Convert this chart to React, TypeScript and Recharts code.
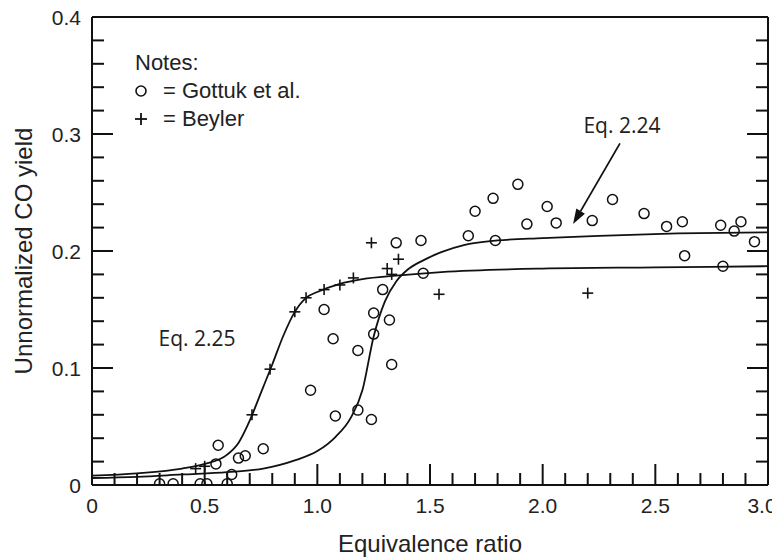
import React from "react";
import {
  ComposedChart,
  Legend,
  Line,
  ReferenceDot,
  ReferenceLine,
  Scatter,
  XAxis,
  YAxis,
} from "recharts";

// tick positions and labels
const xTicks = [
  0, 0.1, 0.2, 0.3, 0.4, 0.5, 0.6, 0.7, 0.8, 0.9, 1.0, 1.1, 1.2, 1.3, 1.4, 1.5,
  1.6, 1.7, 1.8, 1.9, 2.0, 2.1, 2.2, 2.3, 2.4, 2.5, 2.6, 2.7, 2.8, 2.9, 3.0,
];
const xMajor = [0, 0.5, 1.0, 1.5, 2.0, 2.5, 3.0];
const xLabels = ["0", "0.5", "1.0", "1.5", "2.0", "2.5", "3.0"];
const yTicks = [
  0, 0.02, 0.04, 0.06, 0.08, 0.1, 0.12, 0.14, 0.16, 0.18, 0.2, 0.22, 0.24, 0.26,
  0.28, 0.3, 0.32, 0.34, 0.36, 0.38, 0.4,
];
const yMajor = [0, 0.1, 0.2, 0.3, 0.4];
const yLabels = ["0", "0.1", "0.2", "0.3", "0.4"];

// Gottuk et al. (open circles)
const gottuk: [number, number][] = [
  [0.3, 0.001], [0.36, 0.001], [0.48, 0.001], [0.51, 0.001], [0.55, 0.018],
  [0.56, 0.034], [0.6, 0.001], [0.62, 0.009], [0.65, 0.023], [0.68, 0.025],
  [0.76, 0.031], [0.97, 0.081], [1.03, 0.15], [1.07, 0.125], [1.08, 0.059],
  [1.18, 0.064], [1.18, 0.115], [1.24, 0.056], [1.25, 0.147], [1.25, 0.129],
  [1.29, 0.167], [1.32, 0.141], [1.33, 0.103], [1.35, 0.207], [1.46, 0.209],
  [1.47, 0.181], [1.67, 0.213], [1.7, 0.234], [1.78, 0.245], [1.79, 0.209],
  [1.89, 0.257], [1.93, 0.223], [2.02, 0.238], [2.06, 0.224], [2.22, 0.226],
  [2.31, 0.244], [2.45, 0.232], [2.55, 0.221], [2.62, 0.225], [2.63, 0.196],
  [2.79, 0.222], [2.8, 0.187], [2.85, 0.217], [2.88, 0.225], [2.94, 0.208],
];

// Beyler (plus signs)
const beyler: [number, number][] = [
  [0.46, 0.014], [0.5, 0.016], [0.71, 0.06], [0.79, 0.099], [0.9, 0.148],
  [0.95, 0.16], [1.03, 0.167], [1.1, 0.171], [1.16, 0.177], [1.24, 0.207],
  [1.31, 0.185], [1.33, 0.18], [1.36, 0.193], [1.54, 0.163], [2.2, 0.164],
];

// fitted curves
const eq224: [number, number][] = [
  [0, 0.006], [0.2, 0.007], [0.4, 0.009], [0.6, 0.011], [0.76, 0.014],
  [0.9, 0.021], [1.0, 0.029], [1.08, 0.041], [1.15, 0.058], [1.2, 0.081],
  [1.25, 0.127], [1.3, 0.157], [1.35, 0.174], [1.4, 0.184], [1.47, 0.192],
  [1.55, 0.199], [1.65, 0.205], [1.8, 0.209], [2.0, 0.211], [2.25, 0.213],
  [2.6, 0.215], [3.0, 0.216],
];
const eq225: [number, number][] = [
  [0, 0.008], [0.2, 0.01], [0.4, 0.014], [0.5, 0.018], [0.6, 0.026],
  [0.65, 0.036], [0.7, 0.055], [0.75, 0.079], [0.8, 0.103], [0.85, 0.128],
  [0.9, 0.148], [0.95, 0.16], [1.0, 0.165], [1.1, 0.172], [1.2, 0.176],
  [1.35, 0.179], [1.55, 0.182], [2.0, 0.185], [2.5, 0.186], [3.0, 0.187],
];

const toRows = (pts: [number, number][]) => pts.map(([x, y]) => ({ x, y }));

const INK = "#111";
const TEXT = "#222";
const FONT = "'Liberation Sans', Arial, Helvetica, sans-serif";
const EQ_FONT = "'Open Sans', 'DejaVu Sans', sans-serif";

const findIdx = (arr: number[], v: number) =>
  arr.findIndex((m) => Math.abs(m - v) < 1e-6);

const makeXTick = (side: "bottom" | "top") => (props: any) => {
  const { x, y, payload } = props;
  const idx = findIdx(xMajor, payload.value);
  const len = idx >= 0 ? 21 : 12;
  const dir = side === "bottom" ? -1 : 1;
  // last label nudged left so it stays on the page
  const dx = idx === xMajor.length - 1 ? -6 : 0;
  return (
    <g>
      <line x1={x} x2={x} y1={y} y2={y + dir * len} stroke={INK} strokeWidth={2} />
      {side === "bottom" && idx >= 0 && (
        <text x={x + dx} y={y + 28} textAnchor="middle" fontSize={21} fontFamily={FONT} fill={TEXT}>
          {xLabels[idx]}
        </text>
      )}
    </g>
  );
};

const makeYTick = (side: "left" | "right") => (props: any) => {
  const { x, y, payload } = props;
  const idx = findIdx(yMajor, payload.value);
  const len = idx >= 0 ? 21 : 12;
  const dir = side === "left" ? 1 : -1;
  return (
    <g>
      <line x1={x} x2={x + dir * len} y1={y} y2={y} stroke={INK} strokeWidth={2} />
      {side === "left" && idx >= 0 && (
        <text x={x - 11} y={y + 7.5} textAnchor="end" fontSize={21} fontFamily={FONT} fill={TEXT}>
          {yLabels[idx]}
        </text>
      )}
    </g>
  );
};

const OpenCircle = (props: any) => (
  <circle cx={props.cx} cy={props.cy} r={5} fill="none" stroke={INK} strokeWidth={1.5} />
);

const PlusMark = (props: any) => {
  const { cx, cy } = props;
  return (
    <g stroke={INK} strokeWidth={1.6}>
      <line x1={cx - 5.5} x2={cx + 5.5} y1={cy} y2={cy} />
      <line x1={cx} x2={cx} y1={cy - 5.5} y2={cy + 5.5} />
    </g>
  );
};

const Arrow = (props: any) => {
  const { x1, y1, x2, y2 } = props;
  const ang = Math.atan2(y2 - y1, x2 - x1);
  const L = 15;
  const W = 5;
  const bx = x2 - L * Math.cos(ang);
  const by = y2 - L * Math.sin(ang);
  const px = -Math.sin(ang) * W;
  const py = Math.cos(ang) * W;
  return (
    <g>
      <line x1={x1} y1={y1} x2={bx} y2={by} stroke={INK} strokeWidth={1.8} />
      <polygon
        points={`${x2},${y2} ${bx + px},${by + py} ${bx - px},${by - py}`}
        fill={INK}
      />
    </g>
  );
};

const NotesLegend = () => (
  <div style={{ fontFamily: FONT, fontSize: 22, color: TEXT, lineHeight: "28px" }}>
    <div>Notes:</div>
    <div style={{ display: "flex", alignItems: "center" }}>
      <svg width={16} height={16}>
        <circle cx={6} cy={8} r={5} fill="none" stroke={INK} strokeWidth={1.6} />
      </svg>
      <span style={{ marginLeft: 12 }}>= Gottuk et al.</span>
    </div>
    <div style={{ display: "flex", alignItems: "center" }}>
      <svg width={16} height={16}>
        <line x1={0} x2={12} y1={8} y2={8} stroke={INK} strokeWidth={1.8} />
        <line x1={6} x2={6} y1={2} y2={14} stroke={INK} strokeWidth={1.8} />
      </svg>
      <span style={{ marginLeft: 12 }}>= Beyler</span>
    </div>
  </div>
);

export default function App() {
  return (
    <div style={{ width: 780, height: 558, margin: "-8px 0 0 -8px", background: "#fff" }}>
      <ComposedChart
        width={780}
        height={558}
        margin={{ top: 16, right: 11, left: 0, bottom: 0 }}
      >
        <XAxis
          xAxisId="bottom"
          type="number"
          dataKey="x"
          domain={[0, 3]}
          allowDataOverflow
          ticks={xTicks}
          interval={0}
          height={73}
          tickSize={0}
          tickMargin={0}
          tickLine={false}
          axisLine={{ stroke: INK, strokeWidth: 2 }}
          tick={makeXTick("bottom")}
          label={{
            value: "Equivalence ratio",
            position: "insideBottom",
            offset: 6,
            fontSize: 24,
            fontFamily: FONT,
            fill: TEXT,
          }}
        />
        <XAxis
          xAxisId="top"
          orientation="top"
          type="number"
          domain={[0, 3]}
          allowDataOverflow
          ticks={xTicks}
          interval={0}
          height={1}
          tickSize={0}
          tickMargin={0}
          tickLine={false}
          axisLine={{ stroke: INK, strokeWidth: 2 }}
          tick={makeXTick("top")}
        />
        <YAxis
          yAxisId="left"
          type="number"
          dataKey="y"
          domain={[0, 0.4]}
          allowDataOverflow
          ticks={yTicks}
          interval={0}
          width={92}
          tickSize={0}
          tickMargin={0}
          tickLine={false}
          axisLine={{ stroke: INK, strokeWidth: 2 }}
          tick={makeYTick("left")}
          label={(p: any) => {
            const vb = p.viewBox;
            const cx = vb.x + 23;
            const cy = vb.y + vb.height / 2;
            return (
              <text
                x={cx}
                y={cy}
                transform={`rotate(-90 ${cx} ${cy})`}
                textAnchor="middle"
                dominantBaseline="central"
                fontSize={24}
                fontFamily={FONT}
                fill={TEXT}
              >
                Unnormalized CO yield
              </text>
            );
          }}
        />
        <YAxis
          yAxisId="right"
          orientation="right"
          type="number"
          domain={[0, 0.4]}
          allowDataOverflow
          ticks={yTicks}
          interval={0}
          width={1}
          tickSize={0}
          tickMargin={0}
          tickLine={false}
          axisLine={{ stroke: INK, strokeWidth: 2 }}
          tick={makeYTick("right")}
        />
        <Legend
          layout="horizontal"
          verticalAlign="middle"
          align="center"
          wrapperStyle={{ top: 49, left: 135, width: "auto" }}
          content={<NotesLegend />}
        />
        <Line
          xAxisId="bottom"
          yAxisId="left"
          data={toRows(eq224)}
          dataKey="y"
          type="monotone"
          stroke={INK}
          strokeWidth={1.8}
          dot={false}
          activeDot={false}
          isAnimationActive={false}
        />
        <Line
          xAxisId="bottom"
          yAxisId="left"
          data={toRows(eq225)}
          dataKey="y"
          type="monotone"
          stroke={INK}
          strokeWidth={1.8}
          dot={false}
          activeDot={false}
          isAnimationActive={false}
        />
        <Scatter
          xAxisId="bottom"
          yAxisId="left"
          data={toRows(gottuk)}
          shape={<OpenCircle />}
          isAnimationActive={false}
        />
        <Scatter
          xAxisId="bottom"
          yAxisId="left"
          data={toRows(beyler)}
          shape={<PlusMark />}
          isAnimationActive={false}
        />
        <ReferenceLine
          xAxisId="bottom"
          yAxisId="left"
          segment={[
            { x: 2.343, y: 0.292 },
            { x: 2.135, y: 0.223 },
          ]}
          shape={<Arrow />}
        />
        <ReferenceDot
          xAxisId="bottom"
          yAxisId="left"
          x={2.352}
          y={0.307}
          r={0}
          fill="none"
          stroke="none"
          label={{
            value: "Eq. 2.24",
            position: "center",
            fontSize: 21,
            fontFamily: EQ_FONT,
            fill: TEXT,
          }}
        />
        <ReferenceDot
          xAxisId="bottom"
          yAxisId="left"
          x={0.466}
          y={0.125}
          r={0}
          fill="none"
          stroke="none"
          label={{
            value: "Eq. 2.25",
            position: "center",
            fontSize: 21,
            fontFamily: EQ_FONT,
            fill: TEXT,
          }}
        />
      </ComposedChart>
    </div>
  );
}
